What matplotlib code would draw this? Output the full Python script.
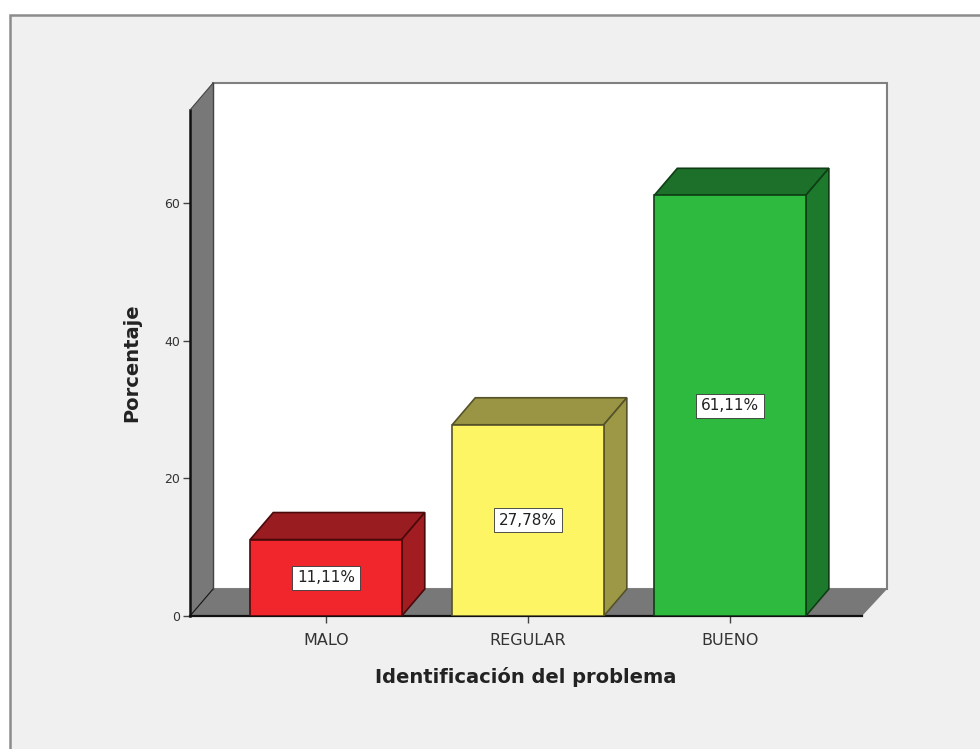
import matplotlib

matplotlib.use("Agg")
import matplotlib.pyplot as plt  # noqa: E402
from matplotlib.patches import Polygon, Rectangle  # noqa: E402

W, H = 980, 749

categories = ["MALO", "REGULAR", "BUENO"]
values = [11.11, 27.78, 61.11]
value_labels = ["11,11%", "27,78%", "61,11%"]
y_ticks = [0, 20, 40, 60]

front_colors = ["#f0262c", "#fdf564", "#2dba3f"]
top_colors = ["#981c20", "#9a9544", "#1c7029"]
side_colors = ["#a11d22", "#9d9845", "#1d7a2c"]
edge_colors = ["#4a0a0c", "#55522a", "#0f3d15"]

PANEL = "#f0f0f0"
WALL = "#787878"
EDGE = "#111111"

BAR_W = 0.75
DX = 0.114  # depth offset, x units
DY = 3.92  # depth offset, y units
Y_TOP = 73.5

plt.rcParams["font.family"] = ["DejaVu Sans"]

fig = plt.figure(figsize=(W / 100, H / 100), dpi=100, facecolor="white")

# grey panel behind the chart, open on the right and at the bottom
fig.add_artist(Rectangle((10 / W, -0.01), 1.0, 1 - 15 / H + 0.01, transform=fig.transFigure,
                         facecolor=PANEL, edgecolor="#8c8c8c", linewidth=1.8, zorder=-1))

ax = fig.add_axes([190 / W, 1 - 616 / H, 672 / W, 506 / H])
ax.set_xlim(-0.673, 2.653)
ax.set_ylim(0, Y_TOP)
ax.patch.set_visible(False)
for s in ax.spines.values():
    s.set_visible(False)

x0, x1 = ax.get_xlim()
back_x1 = x1 + DX + 0.01

# back wall
ax.add_patch(Polygon([(x0 + DX, DY), (back_x1, DY), (back_x1, Y_TOP + DY), (x0 + DX, Y_TOP + DY)],
                     facecolor="white", edgecolor="#808080", linewidth=1.5, clip_on=False, zorder=1))
# left wall and floor, dark lines only along the front
ax.add_patch(Polygon([(x0, 0), (x0 + DX, DY), (x0 + DX, Y_TOP + DY), (x0, Y_TOP)],
                     facecolor=WALL, edgecolor="none", clip_on=False, zorder=2))
ax.add_patch(Polygon([(x0, 0), (x0 + DX, DY), (back_x1, DY), (x1, 0)],
                     facecolor=WALL, edgecolor="none", clip_on=False, zorder=2))
ax.plot([x0, x0], [0, Y_TOP], color=EDGE, linewidth=1.8, clip_on=False, zorder=2.5)
ax.plot([x0, x1], [0, 0], color=EDGE, linewidth=1.6, clip_on=False, zorder=2.5)
ax.plot([x0, x0 + DX], [0, DY], color=EDGE, linewidth=0.8, clip_on=False, zorder=2.5)
ax.plot([x0, x0 + DX], [Y_TOP, Y_TOP + DY], color="#444444", linewidth=0.8, clip_on=False, zorder=2.5)
ax.plot([x0 + DX, x0 + DX], [DY, Y_TOP + DY], color="#444444", linewidth=1.0, clip_on=False, zorder=2.5)

for i, v in enumerate(values):
    lo, hi = i - BAR_W / 2, i + BAR_W / 2
    ax.bar(i, v, width=BAR_W, color=front_colors[i], edgecolor=edge_colors[i], linewidth=1.2, zorder=4)
    ax.add_patch(Polygon([(lo, v), (lo + DX, v + DY), (hi + DX, v + DY), (hi, v)],
                         facecolor=top_colors[i], edgecolor=edge_colors[i], linewidth=1.2, zorder=3))
    ax.add_patch(Polygon([(hi, 0), (hi + DX, DY), (hi + DX, v + DY), (hi, v)],
                         facecolor=side_colors[i], edgecolor=edge_colors[i], linewidth=1.2, zorder=3))
    ax.text(i, v / 2, value_labels[i], ha="center", va="center", fontsize=11, color="#222222", zorder=5,
            bbox=dict(boxstyle="square,pad=0.3", facecolor="white", edgecolor="#333333", linewidth=0.6))

ax.set_xticks(range(len(categories)), categories)
ax.set_yticks(y_ticks)
ax.tick_params(axis="x", length=5, width=1, color="#444444", labelcolor="#333333", labelsize=11.5, pad=7)
ax.tick_params(axis="y", length=5, width=1, color="#444444", labelcolor="#333333", labelsize=9, pad=2)
ax.set_xlabel("Identificación del problema", fontsize=14, fontweight="bold", color="#222222",
              labelpad=14)
ax.set_ylabel("Porcentaje", fontsize=14, fontweight="bold", color="#222222", labelpad=17)

fig.savefig("out.png", dpi=100)
